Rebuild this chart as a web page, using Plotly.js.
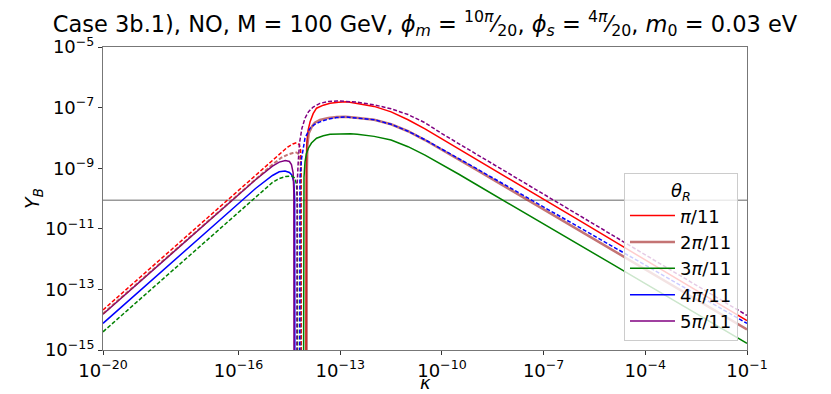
<!DOCTYPE html>
<html>
<head>
<meta charset="utf-8">
<script src="https://cdn.plot.ly/plotly-3.0.1.min.js"></script>
<style>
  html, body { margin: 0; padding: 0; background: #fff; }
  #chart { width: 831px; height: 394px; }
</style>
</head>
<body>
<div id="chart"></div>
<script>
// Y_B vs kappa, both stored as log10 values.
// Curves on the left end where Y_B changes sign, curves on the right start there.

// pi/11, dashed (left branch)
const kPiDash = [-20, -18, -16, -15.5, -15, -14.75, -14.55, -14.4, -14.29, -14.21, -14.17, -14.155, -14.15];
const yPiDash = [-13.68, -11.70, -9.72, -9.23, -8.75, -8.49, -8.30, -8.20, -8.16, -8.22, -8.40, -9.0, -20];

// 2pi/11, dashed (left branch)
const k2PiDash = [-20, -18, -16, -15.5, -15, -14.75, -14.55, -14.4, -14.29, -14.2, -14.175, -14.165, -14.16];
const y2PiDash = [-13.80, -11.82, -9.84, -9.35, -8.88, -8.66, -8.55, -8.50, -8.48, -8.56, -8.75, -9.3, -20];

// 5pi/11, solid (left branch)
const k5PiSolid = [-20, -18, -16, -15.5, -15, -14.8, -14.62, -14.5, -14.44, -14.39, -14.37, -14.36];
const y5PiSolid = [-13.82, -11.84, -9.86, -9.38, -8.93, -8.80, -8.75, -8.78, -8.88, -9.15, -9.8, -20];

// 4pi/11, solid (left branch)
const k4PiSolid = [-20, -18, -16, -15.5, -15, -14.8, -14.63, -14.5, -14.43, -14.37, -14.345, -14.335];
const y4PiSolid = [-14.12, -12.14, -10.16, -9.67, -9.24, -9.12, -9.09, -9.14, -9.22, -9.45, -10.0, -20];

// 3pi/11, dashed (left branch)
const k3PiDash = [-20, -18, -16, -15.5, -15, -14.8, -14.6, -14.43, -14.34, -14.29, -14.265, -14.255];
const y3PiDash = [-14.40, -12.42, -10.44, -9.96, -9.47, -9.34, -9.27, -9.26, -9.32, -9.55, -10.2, -20];

// 5pi/11, dashed (right branch)
const k5PiDash = [-14.29, -14.285, -14.27, -14.24, -14.2, -14.13, -14.04, -13.94, -13.8, -13.6, -13.35, -13.1, -12.8, -12.5, -12, -11.5, -11, -10.5, -10, -9.5, -9, -8, -7, -6, -5, -4, -3, -2, -1];
const y5PiDash = [-20, -10.6, -9.5, -8.79, -8.15, -7.68, -7.35, -7.14, -6.98, -6.86, -6.80, -6.78, -6.79, -6.82, -6.91, -7.04, -7.23, -7.50, -7.86, -8.19, -8.52, -9.19, -9.86, -10.52, -11.19, -11.86, -12.52, -13.19, -13.86];

// pi/11, solid (right branch)
const kPiSolid = [-14.02, -14.015, -14.0, -13.99, -13.95, -13.89, -13.8, -13.7, -13.5, -13.3, -13.05, -12.8, -12.5, -12, -11.5, -11, -10.5, -10, -9.5, -9, -8, -7, -6, -5, -4, -3, -2, -1];
const yPiSolid = [-20, -10.6, -9.0, -8.23, -7.75, -7.47, -7.2, -7.02, -6.92, -6.86, -6.82, -6.81, -6.86, -6.96, -7.14, -7.40, -7.70, -8.03, -8.36, -8.69, -9.36, -10.03, -10.69, -11.36, -12.03, -12.69, -13.36, -14.03];

// 4pi/11, dashed (right branch)
const k4PiDash = [-14.2, -14.195, -14.19, -14.14, -14.09, -14.04, -13.96, -13.89, -13.75, -13.6, -13.35, -13.11, -12.85, -12.6, -12, -11.5, -11, -10.5, -10, -9.5, -9, -8, -7, -6, -5, -4, -3, -2, -1];
const y4PiDash = [-20, -10.6, -9.33, -8.67, -8.28, -8.01, -7.82, -7.68, -7.55, -7.47, -7.38, -7.33, -7.31, -7.33, -7.40, -7.55, -7.78, -8.06, -8.37, -8.68, -9.00, -9.64, -10.28, -10.92, -11.56, -12.20, -12.84, -13.48, -14.12];

// 2pi/11, solid (right branch)
const k2PiSolid = [-14.0, -13.995, -13.985, -13.97, -13.93, -13.84, -13.75, -13.6, -13.35, -13.11, -12.85, -12.6, -12, -11.5, -11, -10.5, -10, -9.5, -9, -8, -7, -6, -5, -4, -3, -2, -1];
const y2PiSolid = [-20, -10.6, -9.0, -8.23, -7.85, -7.63, -7.5, -7.41, -7.34, -7.31, -7.30, -7.33, -7.40, -7.55, -7.78, -8.07, -8.39, -8.71, -9.04, -9.70, -10.36, -11.02, -11.68, -12.34, -13.00, -13.66, -14.32];

// 3pi/11, solid (right branch)
const k3PiSolid = [-14.09, -14.085, -14.07, -14.04, -14.0, -13.94, -13.85, -13.7, -13.5, -13.3, -13.0, -12.7, -12.5, -12, -11.5, -11, -10.5, -10, -9.5, -9, -8, -7, -6, -5, -4, -3, -2, -1];
const y3PiSolid = [-20, -10.6, -9.3, -8.79, -8.52, -8.34, -8.17, -8.01, -7.93, -7.88, -7.86, -7.86, -7.88, -7.95, -8.07, -8.29, -8.57, -8.88, -9.20, -9.53, -10.18, -10.84, -11.50, -12.15, -12.81, -13.47, -14.12, -14.78];

// observed baryon asymmetry (horizontal reference line)
const observedYB = 8.7e-11;

// axis ticks (log10 exponents)
const xTickExp = [-20, -16, -13, -10, -7, -4, -1];
const yTickExp = [-5, -7, -9, -11, -13, -15];

const FONT = "DejaVu Sans, Verdana, sans-serif";

function pow10(arr) {
  return arr.map(v => Math.pow(10, v));
}

function curve(kExp, yExp, color, dash, name, showlegend, width) {
  return {
    x: pow10(kExp),
    y: pow10(yExp),
    type: "scatter",
    mode: "lines",
    name: name,
    showlegend: showlegend,
    line: { color: color, width: width || 1.5, dash: dash }
  };
}

function tickText(exps) {
  return exps.map(e => "10<sup>\u2212" + Math.abs(e) + "</sup>");
}

const RED = "#ff0000";
const BROWN = "rgba(165,42,42,0.65)";
const GREEN = "#008000";
const BLUE = "#0000ff";
const PURPLE = "#800080";
const DASH = "4px,2px";

const traces = [
  curve(kPiSolid, yPiSolid, RED, "solid", "<i>π</i>/11", true),
  curve(k2PiSolid, y2PiSolid, BROWN, "solid", "2<i>π</i>/11", true, 2.5),
  curve(k3PiSolid, y3PiSolid, GREEN, "solid", "3<i>π</i>/11", true),
  curve(k4PiSolid, y4PiSolid, BLUE, "solid", "4<i>π</i>/11", true),
  curve(k5PiSolid, y5PiSolid, PURPLE, "solid", "5<i>π</i>/11", true),
  curve(kPiDash, yPiDash, RED, DASH, "π/11 dashed", false),
  curve(k2PiDash, y2PiDash, BROWN, DASH, "2π/11 dashed", false, 2),
  curve(k3PiDash, y3PiDash, GREEN, DASH, "3π/11 dashed", false),
  curve(k4PiDash, y4PiDash, BLUE, DASH, "4π/11 dashed", false),
  curve(k5PiDash, y5PiDash, PURPLE, DASH, "5π/11 dashed", false)
];

const layout = {
  width: 831,
  height: 394,
  margin: { l: 103, r: 84, t: 47, b: 44 },
  paper_bgcolor: "#fff",
  plot_bgcolor: "#fff",
  font: { family: FONT, color: "#000", size: 18 },
  title: {
    text: "Case 3b.1), NO, M = 100 GeV, <i>ϕ</i><sub><i>m</i></sub> = <sup>10<i>π</i></sup>\u2044<sub>20</sub>, " +
          "<i>ϕ</i><sub><i>s</i></sub> = <sup>4<i>π</i></sup>\u2044<sub>20</sub>, <i>m</i><sub>0</sub> = 0.03 eV",
    font: { family: FONT, size: 22.5, color: "#000" },
    x: 0.5, xref: "paper", xanchor: "center",
    y: 0.94, yref: "container", yanchor: "middle"
  },
  xaxis: {
    type: "log",
    range: [-20, -1],
    tickmode: "array",
    tickvals: pow10(xTickExp),
    ticktext: tickText(xTickExp),
    ticks: "outside", ticklen: 4, tickcolor: "#333",
    showgrid: false, zeroline: false,
    showline: true, mirror: true, linecolor: "#777", linewidth: 1,
    tickfont: { family: FONT, size: 18 },
    automargin: false
  },
  yaxis: {
    type: "log",
    range: [-15, -5],
    tickmode: "array",
    tickvals: pow10(yTickExp),
    ticktext: tickText(yTickExp),
    ticks: "outside", ticklen: 4, tickcolor: "#333",
    showgrid: false, zeroline: false,
    showline: true, mirror: true, linecolor: "#777", linewidth: 1,
    tickfont: { family: FONT, size: 18 },
    title: { text: "<i>Y</i><sub><i>B</i></sub>", font: { family: FONT, size: 19 }, standoff: 0 },
    automargin: false
  },
  // x-axis label placed just under the tick labels
  annotations: [{
    text: "<i>κ</i>",
    xref: "paper", x: 0.5, xanchor: "center",
    yref: "paper", y: -0.106, yanchor: "middle",
    showarrow: false,
    font: { family: FONT, size: 18, color: "#000" }
  }],
  shapes: [{
    type: "line", xref: "paper", x0: 0, x1: 1,
    yref: "y", y0: observedYB, y1: observedYB,
    line: { color: "#999", width: 1.5 },
    layer: "below"
  }],
  showlegend: true,
  legend: {
    x: 0.986, y: 0.03, xanchor: "right", yanchor: "bottom",
    bgcolor: "rgba(255,255,255,0.8)",
    bordercolor: "#ccc", borderwidth: 1,
    font: { family: FONT, size: 18, color: "#000" },
    title: { text: "<i>θ</i><sub><i>R</i></sub>", side: "top center", font: { family: FONT, size: 18 } },
    itemwidth: 45,
    tracegroupgap: 0
  }
};

Plotly.newPlot("chart", traces, layout, { displayModeBar: false, staticPlot: true });
</script>
</body>
</html>
